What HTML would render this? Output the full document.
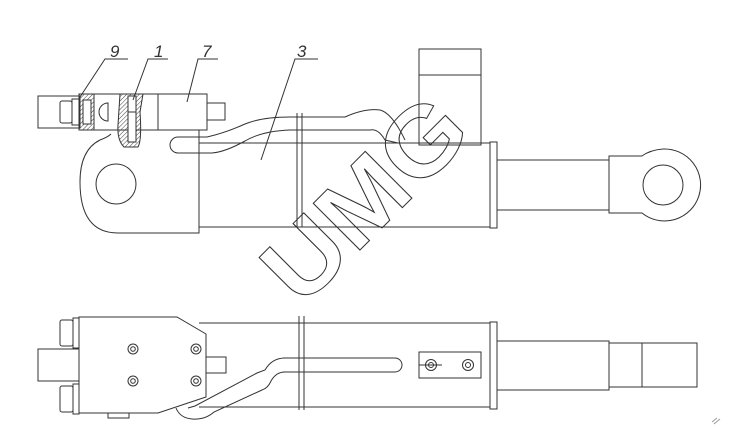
<!DOCTYPE html>
<html><head><meta charset="utf-8"><style>
html,body{margin:0;padding:0;background:#fff;}
svg{display:block;}
</style></head><body>
<svg width="729" height="438" viewBox="0 0 729 438" xmlns="http://www.w3.org/2000/svg">
<defs>
<pattern id="h" width="3" height="3" patternUnits="userSpaceOnUse" patternTransform="rotate(45)">
<line x1="0" y1="0" x2="0" y2="3" stroke="#444" stroke-width="1"/>
</pattern>
</defs>
<g fill="none" stroke="#333" stroke-width="1">
<rect x="38" y="96" width="42" height="32"/>
<rect x="60" y="101" width="12" height="22" rx="2"/>
<rect x="72" y="99" width="8" height="26"/>
<rect x="79" y="94" width="15" height="36" fill="url(#h)"/>
<rect x="83" y="100" width="8" height="24" fill="#fff"/>
<rect x="94" y="94" width="113" height="36"/>
<line x1="158" y1="94" x2="158" y2="130"/>
<path d="M108 103 A9 9 0 0 0 108 121 Z"/>
<rect x="207" y="103" width="18" height="17"/>
<path d="M120 94 L143 94 L140 112 Q142 140 138 147 L124 147 Q117 140 118 125 Z" fill="url(#h)"/>
<rect x="128" y="96" width="8" height="46" fill="#fff"/>
<line x1="128" y1="112" x2="136" y2="112"/>
<path d="M111 134 Q108 137 100 140 Q80 150 80 182 Q80 233 118 233 L199 233 L199 130"/>
<circle cx="116" cy="184" r="20"/>
<path d="M199 143 L490 143 M199 227 L490 227"/>
<rect x="490" y="142" width="7" height="86"/>
<rect x="497" y="160" width="112" height="50"/>
<path d="M609 156 L642 156 Q650 150 663 149 A36 36 0 1 1 642 213 L609 213 Z"/>
<circle cx="663" cy="185" r="20"/>
<rect x="419" y="49" width="62" height="96"/>
<line x1="419" y1="75" x2="481" y2="75"/>
<path d="M207 137 L178 137 A8 8 0 0 0 178 153 L212 153 Q225 152 245 141 Q262 131 290 130 L370 130 Q378 128 385 140 L398 143"/>
<path d="M207 137 Q225 133 245 124 Q262 117 290 117 L345 117 Q365 108 380 110 Q392 113 405 140"/>
<line x1="297" y1="113" x2="297" y2="227"/>
<line x1="302" y1="113" x2="302" y2="227"/>
<path d="M128 59 L105 59 L80 97"/>
<path d="M168 59 L148 59 L133 100"/>
<path d="M218 59 L198 59 L187 102"/>
<path d="M318 59 L295 59 L261 160"/>

<rect x="38" y="349" width="41" height="32"/>
<rect x="60" y="320" width="13" height="26" rx="2"/>
<rect x="73" y="318" width="6" height="30"/>
<rect x="60" y="386" width="13" height="26" rx="2"/>
<rect x="73" y="384" width="6" height="30"/>
<rect x="108" y="413" width="21" height="5"/>
<rect x="206" y="357" width="20" height="16"/>
<path d="M199 323 L490 323 M199 407 L490 407"/>
<rect x="490" y="322" width="7" height="87"/>
<rect x="497" y="341" width="112" height="49"/>
<rect x="609" y="343" width="33" height="44"/>
<rect x="642" y="343" width="55" height="44"/>
<path d="M283 358 L395 358 A7 7 0 0 1 395 372 L283 372"/>
<rect x="419" y="352" width="62" height="26"/>
<circle cx="431" cy="365" r="5.5"/><circle cx="431" cy="365" r="2.5"/>
<line x1="419" y1="365" x2="442" y2="365"/>
<circle cx="468" cy="365" r="5.5"/><circle cx="468" cy="365" r="2.5"/>
<path d="M300 358 L285 358 Q272 358 265 370 L257 373 L195 406 L188 408"/>
<path d="M300 372 L285 372 Q276 372 271 381 Q268 388 262 390 L214 412 Q205 420 192 419 Q180 418 176 408"/>
<path d="M79 317 L177 317 L206 334 L206 397 L158 413 L79 413 Z" fill="#fff"/>
<circle cx="133" cy="349" r="5"/><circle cx="133" cy="349" r="2.3"/>
<circle cx="196" cy="349" r="5"/><circle cx="196" cy="349" r="2.3"/>
<circle cx="133" cy="381" r="5"/><circle cx="133" cy="381" r="2.3"/>
<circle cx="196" cy="381" r="5"/><circle cx="196" cy="381" r="2.3"/>
<line x1="299" y1="316" x2="299" y2="410"/>
<line x1="304" y1="316" x2="304" y2="410"/>
<path d="M712 422 L717 418 M714 424 L720 419" stroke="#999"/>
</g>
<g font-family="Liberation Sans, sans-serif" font-style="italic" font-size="17" fill="#333">
<text x="110" y="57">9</text>
<text x="154" y="57">1</text>
<text x="202" y="57">7</text>
<text x="297" y="57">3</text>
</g>
<text x="388" y="222" transform="rotate(-45 388 222)" text-anchor="middle" font-family="Liberation Sans, sans-serif" font-weight="bold" font-size="96" fill="none" stroke="#333" stroke-width="1" textLength="245" lengthAdjust="spacingAndGlyphs">UMG</text>
</svg>
</body></html>
